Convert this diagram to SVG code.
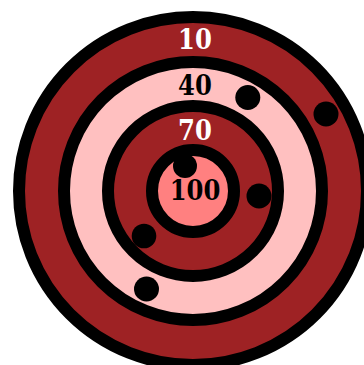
<svg xmlns="http://www.w3.org/2000/svg" width="364" height="365" viewBox="0 0 364 365">
<style>
.ring{stroke:#000;stroke-width:12}
.lbl{font-family:"DejaVu Serif Condensed","DejaVu Serif","Liberation Serif",serif;font-stretch:condensed;font-weight:bold;font-size:27px;text-anchor:middle}
.hole{fill:#000}
</style>
<rect width="364" height="365" fill="#fff"/>
<g id="target">
<circle class="ring" cx="193" cy="191" r="174" fill="#9e2224"/>
<circle class="ring" cx="193" cy="191" r="129" fill="#ffc0c0"/>
<circle class="ring" cx="193" cy="191" r="85" fill="#9e2224"/>
<circle class="ring" cx="193" cy="191" r="41" fill="#ff8080"/>
</g>
<g id="holes">
<circle class="hole" cx="247.8" cy="97.5" r="12.5"/>
<circle class="hole" cx="326" cy="114" r="12.5"/>
<circle class="hole" cx="185" cy="166" r="12"/>
<circle class="hole" cx="259" cy="196" r="12.5"/>
<circle class="hole" cx="144" cy="236" r="12.3"/>
<circle class="hole" cx="146.5" cy="289" r="12.5"/>
</g>
<g id="labels">
<text class="lbl" x="195" y="49" fill="#fff">10</text>
<text class="lbl" x="195" y="95" fill="#000">40</text>
<text class="lbl" x="195" y="140" fill="#fff">70</text>
<text class="lbl" x="195" y="200" fill="#000">100</text>
</g>
</svg>
